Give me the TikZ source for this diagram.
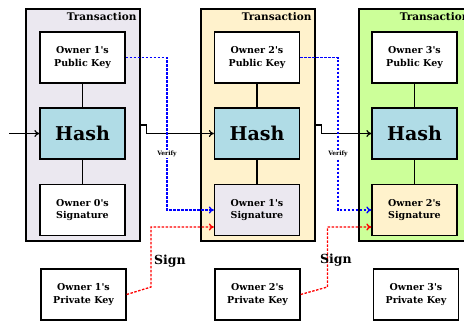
\documentclass[tikz,border=0pt]{standalone}
\usepackage{fontspec}
\setmainfont{DejaVu Serif}
\usetikzlibrary{arrows.meta,calc}
\definecolor{lav}{HTML}{EBE8F0}
\definecolor{cream}{HTML}{FFF2CC}
\definecolor{lgreen}{HTML}{CCFF99}
\definecolor{hashblue}{HTML}{B0DCE6}
\newcommand{\apos}{\textquotesingle}
\begin{document}
\begin{tikzpicture}[x=1pt,y=-1pt,
  tbox/.style={draw, line width=1.3pt, minimum width=114pt, minimum height=232pt, inner sep=0pt},
  ibox/.style={draw, fill=white, line width=1.3pt, minimum width=85pt, minimum height=51pt, inner sep=0pt,
     font=\bfseries\fontsize{9.5}{12.3}\selectfont, align=center},
  hbox/.style={ibox, fill=hashblue, font=\bfseries\fontsize{19}{22}\selectfont},
  tlabel/.style={anchor=north east, inner sep=0pt, font=\bfseries\fontsize{10.5}{12}\selectfont},
  link/.style={line width=1.2pt},
  chain/.style={line width=1.2pt, -{To[length=5pt,width=7pt]}},
  verify/.style={blue, line width=1.3pt, dash pattern=on 2.5pt off 1.5pt, -{To[length=5pt,width=7pt]}},
  sign/.style={red, line width=1.3pt, dash pattern=on 2.5pt off 1.5pt, -{To[length=5pt,width=7pt]}},
  vlabel/.style={fill=white, inner sep=1pt, font=\bfseries\fontsize{6}{7}\selectfont},
  slabel/.style={inner sep=0pt, font=\bfseries\fontsize{12.5}{14}\selectfont}
]
\useasboundingbox (0,0) rectangle (464,322);
\begin{scope}
\clip (0,0) rectangle (464,322);
% transaction boxes
\node[tbox, fill=lav] (t1) at (83,125) {};
\node[tbox, fill=cream] (t2) at (258,125) {};
\node[tbox, fill=lgreen] (t3) at (416,125) {};
\node[tlabel] (tl1) at ($(t1.north east)+(-4,4)$) {Transaction};
\node[tlabel] (tl2) at ($(t2.north east)+(-4,4)$) {Transaction};
\node[tlabel] (tl3) at ($(t3.north east)+(-4,4)$) {Transaction};
\end{scope}
% inner boxes
\node[ibox] (pub1) at (82.5,57.5) {Owner 1\apos s\\Public Key};
\node[hbox] (hash1) at (82.5,133.5) {Hash};
\node[ibox] (sig1) at (82.5,210) {Owner 0\apos s\\Signature};
\node[ibox] (priv1) at (83.5,294.5) {Owner 1\apos s\\Private Key};

\node[ibox] (pub2) at (257,57.5) {Owner 2\apos s\\Public Key};
\node[hbox] (hash2) at (257,133.5) {Hash};
\node[ibox, fill=lav] (sig2) at (257,210) {Owner 1\apos s\\Signature};
\node[ibox] (priv2) at (257.5,294.5) {Owner 2\apos s\\Private Key};

\node[ibox] (pub3) at (414.5,57.5) {Owner 3\apos s\\Public Key};
\node[hbox] (hash3) at (414.5,133.5) {Hash};
\node[ibox, fill=cream] (sig3) at (414.5,210) {Owner 2\apos s\\Signature};
\node[ibox] (priv3) at (416,294.5) {Owner 3\apos s\\Private Key};

% vertical links
\draw[link] (pub1) -- (hash1) -- (sig1);
\draw[link] (pub2) -- (hash2) -- (sig2);
\draw[link] (pub3) -- (hash3) -- (sig3);

% chain
\coordinate (in) at (9,133.5);
\draw[chain] (in) -- (hash1.west);
\draw[chain] (t1.east) -- ++(6,0) |- (hash2.west);
\draw[chain] (t2.east) -- ++(6,0) |- (hash3.west);

% verify
\coordinate (vx1) at (167,57.5);
\coordinate (vx2) at (338,57.5);
\draw[verify] (pub1.east) -- (vx1) |- (sig2.west);
\draw[verify] (pub2.east) -- (vx2) |- (sig3.west);
\node[vlabel] (vl1) at (167,154) {Verify};
\node[vlabel] (vl2) at (338,154) {Verify};

% sign
\coordinate (r1) at (151,287);
\coordinate (r1b) at (151,227);
\coordinate (r2) at (327.5,287);
\coordinate (r2b) at (327.5,227);
\draw[sign] (priv1.east) -- (r1) -- (r1b) -- (r1b -| sig2.west);
\draw[sign] (priv2.east) -- (r2) -- (r2b) -- (r2b -| sig3.west);
\node[slabel] (sl1) at (170,261) {Sign};
\node[slabel] (sl2) at (336,260) {Sign};
\end{tikzpicture}
\end{document}
